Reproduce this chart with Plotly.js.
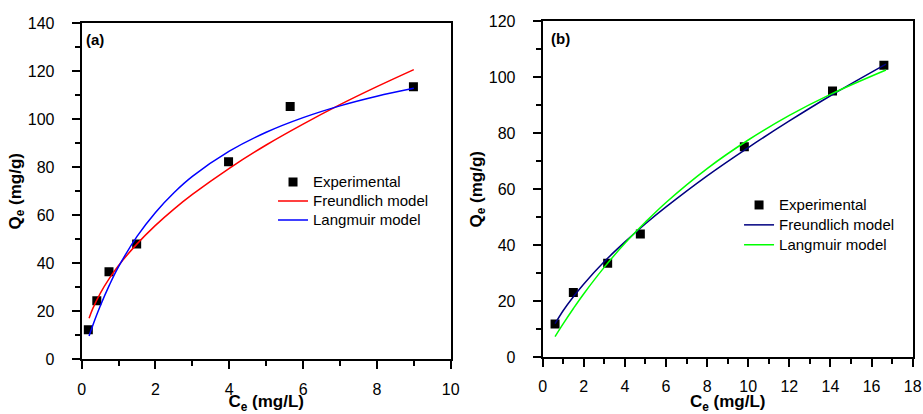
<!DOCTYPE html>
<html>
<head>
<meta charset="utf-8">
<script src="https://cdn.plot.ly/plotly-3.0.1.min.js"></script>
<style>html,body{margin:0;padding:0;background:#fff;}#chart{width:923px;height:414px;}</style>
</head>
<body>
<div id="chart"></div>
<script>
// Panel (a)
const expA_x = [0.18, 0.41, 0.74, 1.49, 3.98, 5.65, 8.99];
const expA_y = [12.3, 24.4, 36.5, 48.0, 82.3, 105.3, 113.6];
const fitA_x = [0.2, 0.3, 0.5, 0.75, 1, 1.5, 2, 2.5, 3, 4, 5, 6, 7, 8, 9];
const freundA_y = [17.1, 21.1, 27.4, 33.7, 39.1, 48.1, 55.8, 62.6, 68.7, 79.6, 89.3, 98.0, 106.1, 113.6, 120.7];
const langA_y = [9.7, 14.1, 22.1, 30.9, 38.6, 51.2, 61.2, 69.4, 76.2, 86.7, 94.6, 100.7, 105.6, 109.6, 112.9];

// Panel (b)
const expB_x = [0.60, 1.49, 3.16, 4.75, 9.81, 14.1, 16.6];
const expB_y = [11.9, 23.1, 33.6, 44.0, 75.2, 95.1, 104.3];
const fitB_x = [0.6, 1, 1.5, 2, 3, 4, 5, 6, 8, 10, 12, 14, 16.7];
const freundB_y = [12.0, 16.7, 21.7, 26.2, 34.2, 41.2, 47.7, 53.7, 64.8, 74.9, 84.4, 93.4, 104.7];
const langB_y = [7.4, 12.0, 17.5, 22.7, 32.2, 40.7, 48.3, 55.3, 67.4, 77.6, 86.4, 93.9, 102.6];

const legendNames = ['Experimental', 'Freundlich model', 'Langmuir model'];
const xTitle = 'C<sub>e</sub> (mg/L)';
const yTitle = 'Q<sub>e</sub> (mg/g)';

const FONT = 'Liberation Sans, Arial, sans-serif';
const nm = s => '<span style="font-size:15px">' + s + '</span>';

const traces = [
  {x: expA_x, y: expA_y, type: 'scatter', mode: 'markers', name: nm(legendNames[0]),
   marker: {symbol: 'square', size: 9, color: '#000'}, xaxis: 'x', yaxis: 'y', legend: 'legend'},
  {x: fitA_x, y: freundA_y, type: 'scatter', mode: 'lines', name: nm(legendNames[1]),
   line: {color: '#ff0000', width: 1.5, shape: 'spline'}, xaxis: 'x', yaxis: 'y', legend: 'legend'},
  {x: fitA_x, y: langA_y, type: 'scatter', mode: 'lines', name: nm(legendNames[2]),
   line: {color: '#0000ff', width: 1.5, shape: 'spline'}, xaxis: 'x', yaxis: 'y', legend: 'legend'},
  {x: expB_x, y: expB_y, type: 'scatter', mode: 'markers', name: nm(legendNames[0]),
   marker: {symbol: 'square', size: 9, color: '#000'}, xaxis: 'x2', yaxis: 'y2', legend: 'legend2'},
  {x: fitB_x, y: freundB_y, type: 'scatter', mode: 'lines', name: nm(legendNames[1]),
   line: {color: '#000080', width: 1.5, shape: 'spline'}, xaxis: 'x2', yaxis: 'y2', legend: 'legend2'},
  {x: fitB_x, y: langB_y, type: 'scatter', mode: 'lines', name: nm(legendNames[2]),
   line: {color: '#00ff00', width: 1.5, shape: 'spline'}, xaxis: 'x2', yaxis: 'y2', legend: 'legend2'}
];

function xax(domain, range, dtick, anchor) {
  return {
    domain: domain, range: range, anchor: anchor, dtick: dtick, tick0: 0,
    showline: true, linecolor: '#000', linewidth: 2, mirror: true,
    ticks: 'outside', ticklen: 8, tickwidth: 2, tickcolor: '#000',
    ticklabelstandoff: 6,
    minor: {dtick: dtick / 2, tick0: 0, ticks: 'outside', ticklen: 5, tickwidth: 2, tickcolor: '#000', showgrid: false},
    showgrid: false, zeroline: false,
    tickfont: {family: FONT, size: 16, color: '#000'},
    title: {text: '<b>' + xTitle + '</b>', font: {family: FONT, size: 17, color: '#000'}, standoff: 5},
    automargin: false
  };
}
function yax(domain, range, dtick, anchor) {
  return {
    domain: domain, range: range, anchor: anchor, dtick: dtick, tick0: 0,
    showline: true, linecolor: '#000', linewidth: 2, mirror: true,
    ticks: 'outside', ticklen: 8, tickwidth: 2, tickcolor: '#000',
    ticklabelstandoff: 14,
    minor: {dtick: dtick / 2, tick0: 0, ticks: 'outside', ticklen: 5, tickwidth: 2, tickcolor: '#000', showgrid: false},
    showgrid: false, zeroline: false,
    tickfont: {family: FONT, size: 16, color: '#000'},
    title: {text: '<b>' + yTitle + '</b>', font: {family: FONT, size: 17, color: '#000'}, standoff: 2},
    automargin: false
  };
}

const layout = {
  width: 923, height: 414,
  margin: {l: 0, r: 0, t: 0, b: 0},
  paper_bgcolor: '#fff', plot_bgcolor: '#fff',
  showlegend: true,
  xaxis: xax([0.0885, 0.4883], [0, 10], 2, 'y'),
  yaxis: yax([0.1321, 0.9437], [0, 140], 20, 'x'),
  xaxis2: xax([0.588, 0.9888], [0, 18], 2, 'y2'),
  yaxis2: yax([0.137, 0.9486], [0, 120], 20, 'x2'),
  legend: {x: 0.2958, y: 0.5145, xanchor: 'left', yanchor: 'middle', bgcolor: 'rgba(0,0,0,0)',
    font: {family: FONT, size: 12, color: '#000'}, tracegroupgap: 0, traceorder: 'normal'},
  legend2: {x: 0.8007, y: 0.4565, xanchor: 'left', yanchor: 'middle', bgcolor: 'rgba(0,0,0,0)',
    font: {family: FONT, size: 13, color: '#000'}, tracegroupgap: 0, traceorder: 'normal'},
  annotations: [
    {text: '<b>(a)</b>', xref: 'x domain', yref: 'y domain', x: 0.005, y: 0.953, xanchor: 'left', yanchor: 'middle',
     showarrow: false, font: {family: FONT, size: 15, color: '#000'}},
    {text: '<b>(b)</b>', xref: 'x2 domain', yref: 'y2 domain', x: 0.016, y: 0.950, xanchor: 'left', yanchor: 'middle',
     showarrow: false, font: {family: FONT, size: 15, color: '#000'}}
  ]
};

Plotly.newPlot('chart', traces, layout, {displayModeBar: false, staticPlot: true});
</script>
</body>
</html>
